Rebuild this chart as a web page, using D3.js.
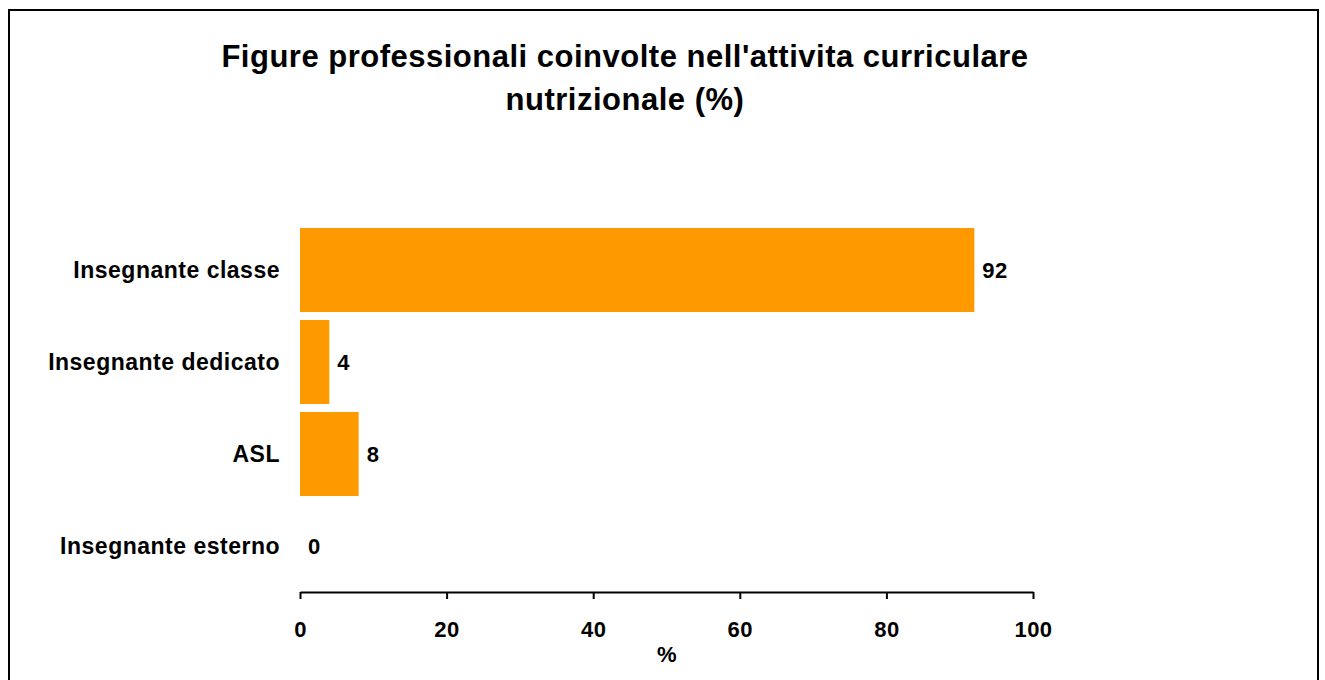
<!DOCTYPE html>
<html lang="en">
<head>
  <meta charset="UTF-8">
  <title>Figure professionali</title>
  <script src="https://d3js.org/d3.v7.min.js"></script>
  <style>
    html, body { margin: 0; background: #fff; }
    svg { display: block; font-family: "Liberation Sans", Arial, sans-serif; font-weight: bold; letter-spacing: 0.5px; }
  </style>
</head>
<body>
  <svg id="chart" width="1325" height="680"></svg>
  <script>
    const categories = ["Insegnante classe", "Insegnante dedicato", "ASL", "Insegnante esterno"];
    const values = [92, 4, 8, 0];
    const xTicks = [0, 20, 40, 60, 80, 100];
    const titleLines = ["Figure professionali coinvolte nell'attivita curriculare", "nutrizionale (%)"];

    const svg = d3.select("#chart");

    // outer frame
    svg.append("rect")
      .attr("x", 9).attr("y", 10)
      .attr("width", 1309).attr("height", 690)
      .attr("fill", "none").attr("stroke", "#000").attr("stroke-width", 2);

    const x = d3.scaleLinear().domain([0, 100]).range([300, 1033]);
    const y = d3.scaleBand().domain(categories).range([224, 592])
      .paddingInner(0.087).paddingOuter(0.0435);

    svg.selectAll(".title")
      .data(titleLines)
      .enter().append("text")
      .attr("x", 625)
      .attr("y", (d, i) => 67 + i * 43)
      .attr("text-anchor", "middle")
      .style("font-size", "31px")
      .text(d => d);

    svg.selectAll(".bar")
      .data(values)
      .enter().append("rect")
      .attr("x", x(0))
      .attr("y", (d, i) => y(categories[i]))
      .attr("width", d => x(d) - x(0))
      .attr("height", y.bandwidth())
      .attr("fill", "#ff9900");

    svg.selectAll(".val")
      .data(values)
      .enter().append("text")
      .attr("x", d => x(d) + 8)
      .attr("y", (d, i) => y(categories[i]) + y.bandwidth() / 2)
      .attr("dy", "0.35em")
      .style("font-size", "22px")
      .text(d => d);

    svg.selectAll(".cat")
      .data(categories)
      .enter().append("text")
      .attr("x", 280)
      .attr("y", d => y(d) + y.bandwidth() / 2)
      .attr("dy", "0.35em")
      .attr("text-anchor", "end")
      .style("font-size", "23px")
      .text(d => d);

    const axis = svg.append("g")
      .attr("transform", "translate(0,592)")
      .call(d3.axisBottom(x).tickValues(xTicks).tickSize(7).tickSizeOuter(0));
    axis.select(".domain").attr("stroke-width", 2);
    axis.selectAll(".tick line").attr("stroke-width", 2);
    axis.selectAll("text")
      .attr("y", 45).attr("dy", null)
      .style("font-size", "22px").style("font-family", "Liberation Sans, Arial, sans-serif")
      .style("font-weight", "bold").attr("fill", "#000");

    svg.append("text")
      .attr("x", 667).attr("y", 662)
      .attr("text-anchor", "middle")
      .style("font-size", "22px")
      .text("%");
  </script>
</body>
</html>
